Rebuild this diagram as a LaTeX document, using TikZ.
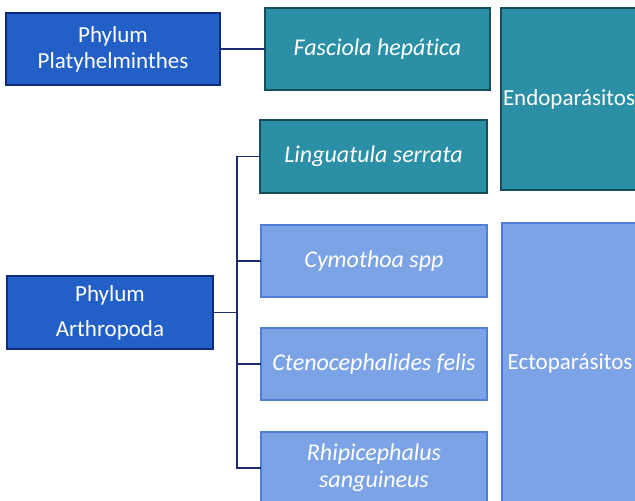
\documentclass[tikz,border=0pt]{standalone}
\usepackage{fontspec}
\setmainfont{Carlito}[Ligatures=NoCommon]
\definecolor{phylumfill}{RGB}{34,96,200}
\definecolor{phylumedge}{RGB}{16,44,120}
\definecolor{endofill}{RGB}{43,143,166}
\definecolor{endoedge}{RGB}{22,78,92}
\definecolor{ectofill}{RGB}{124,163,230}
\definecolor{ectoedge}{RGB}{80,126,214}
\definecolor{connblue}{RGB}{28,44,110}
\tikzset{
  box/.style={draw, line width=1.6pt, inner sep=2pt, outer sep=0pt,
    anchor=north west, align=center, text=white,
    font=\fontsize{23}{26}\selectfont},
  phylum/.style={box, fill=phylumfill, draw=phylumedge},
  endo/.style={box, fill=endofill, draw=endoedge},
  ecto/.style={box, fill=ectofill, draw=ectoedge},
  species/.style={font=\fontsize{24}{27}\selectfont\itshape},
  conn/.style={draw=connblue, line width=1.4pt}
}
\begin{document}
\begin{tikzpicture}[x=1pt, y=-1pt]
    \useasboundingbox (0,0) rectangle (635,501);
    \clip (0,0) rectangle (635,501);
    % phyla
    \node[phylum, minimum width=214, minimum height=72] (plat) at (6,13)
        {Phylum\\Platyhelminthes};
    \node[phylum, minimum width=206, minimum height=73,
        font=\fontsize{23}{35}\selectfont] (arth) at (7,276)
        {Phylum\\Arthropoda};
    % species
    \node[endo, species, minimum width=225, minimum height=82] (fasc) at (265,8)
        {Fasciola hepática};
    \node[endo, species, minimum width=227, minimum height=73] (ling) at (260,120)
        {Linguatula serrata};
    \node[ecto, species, minimum width=226, minimum height=72] (cymo) at (261,225)
        {Cymothoa spp};
    \node[ecto, species, minimum width=226, minimum height=72] (cten) at (261,328)
        {Ctenocephalides felis};
    \node[ecto, species, minimum width=226, minimum height=72] (rhip) at (261,432)
        {Rhipicephalus\\sanguineus};
    % groups
    \node[endo, minimum width=136, minimum height=182] (endop) at (501,8)
        {Endoparásitos};
    \node[ecto, minimum width=136, minimum height=280] (ectop) at (502,223)
        {Ectoparásitos};
    % connectors
    \coordinate (trunk) at (237,0);
    \draw[conn] (plat.east) -- (fasc.west);
    \draw[conn] (ling.west) -- (ling.west -| trunk) -- (rhip.west -| trunk) -- (rhip.west);
    \draw[conn] (arth.east) -- (arth.east -| trunk);
    \draw[conn] (cymo.west) -- (cymo.west -| trunk);
    \draw[conn] (cten.west) -- (cten.west -| trunk);
\end{tikzpicture}
\end{document}
